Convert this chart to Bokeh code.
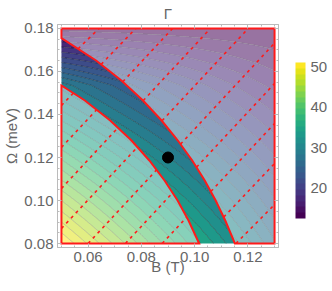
import numpy as np
from bokeh.plotting import figure
from bokeh.models import (ColorBar, LinearColorMapper, FixedTicker, PrintfTickFormatter,
                          LinearAxis, Range1d, CustomJSTickFormatter)
from bokeh.palettes import Viridis256
from bokeh.embed import file_html
from bokeh.resources import INLINE

# ---------------- data ----------------
B_lim = [0.05, 0.13]          # B (T)
W_lim = [0.08, 0.18]          # Omega (meV)
x_ticks = [0.06, 0.08, 0.10, 0.12]
y_ticks = [0.08, 0.10, 0.12, 0.14, 0.16, 0.18]
cbar_ticks = [20, 30, 40, 50]

# Gamma read along the frame edges
gamma_bottom_B = [0.05, 0.13]          # along Omega = 0.08
gamma_bottom = [51.0, 27.0]
gamma_top_B = [0.05, 0.13]             # along Omega = 0.18
gamma_top = [13.3, 12.5]
left_W = [0.08, 0.10, 0.12, 0.14, 0.1535, 0.165, 0.1755, 0.18]   # along B = 0.05
left_gamma = [51.0, 45.3, 39.3, 33.0, 29.0, 22.0, 15.8, 13.3]
right_W = [0.08, 0.18]                                           # along B = 0.13
right_gamma = [27.0, 12.5]
n_bands = 27

# band boundaries (red solid curves)
upper_W = [0.1755, 0.1651, 0.1558, 0.1465, 0.1372, 0.1279, 0.1186, 0.1093, 0.1000, 0.0907, 0.0800]
upper_B = [0.0500, 0.0630, 0.0725, 0.0806, 0.0876, 0.0937, 0.0991, 0.1038, 0.1079, 0.1115, 0.1151]
lower_W = [0.1535, 0.1465, 0.1372, 0.1279, 0.1186, 0.1093, 0.1000, 0.0907, 0.0800]
lower_B = [0.0500, 0.0588, 0.0683, 0.0763, 0.0830, 0.0887, 0.0936, 0.0977, 0.1017]

# dashed red lines: start / end points
dash_B0 = [0.0500, 0.0500, 0.0500, 0.0500, 0.0500, 0.0600, 0.0740, 0.0878, 0.1015, 0.1155]
dash_W0 = [0.1630, 0.1442, 0.1247, 0.1056, 0.0870, 0.0800, 0.0800, 0.0800, 0.0800, 0.0800]
dash_B1 = [0.0641, 0.0779, 0.0917, 0.1059, 0.1201, 0.1300, 0.1300, 0.1300, 0.1300, 0.1300]
dash_W1 = [0.1800, 0.1800, 0.1800, 0.1800, 0.1800, 0.1732, 0.1544, 0.1358, 0.1172, 0.0981]

point_B = [0.09]
point_W = [0.12]

# ---------------- figure ----------------
FONT = "Liberation Sans"
GRAY = "#666666"
FRAME = "#bbbbbb"
RED = "#ff1a1a"

p = figure(width=332, height=291,
           x_range=Range1d(0.04852, 0.13148), y_range=Range1d(0.07814, 0.18186),
           output_backend="svg", toolbar_location=None, title=None,
           min_border_left=54, min_border_right=54, min_border_top=24, min_border_bottom=44)
p.outline_line_color = FRAME
p.grid.visible = False
p.background_fill_color = "white"

# field: blend the edge profiles
Bg = np.linspace(B_lim[0], B_lim[1], 321)
Wg = np.linspace(W_lim[0], W_lim[1], 321)
BB, WW = np.meshgrid(Bg, Wg)
g_bot = np.interp(BB, gamma_bottom_B, gamma_bottom)
g_top = np.interp(BB, gamma_top_B, gamma_top)
h_left = (np.interp(WW, left_W, left_gamma) - left_gamma[-1]) / (left_gamma[0] - left_gamma[-1])
h_right = (np.interp(WW, right_W, right_gamma) - right_gamma[-1]) / (right_gamma[0] - right_gamma[-1])
wB = (BB - B_lim[0]) / (B_lim[1] - B_lim[0])
G = g_top + (g_bot - g_top) * ((1 - wB) * h_left + wB * h_right)
levels = np.linspace(G.min(), G.max(), n_bands + 1)
palette = [Viridis256[int(round(i * 255 / (n_bands - 1)))] for i in range(n_bands)]

p.contour(Bg, Wg, G, levels=levels, fill_color=palette,
          line_color="black", line_alpha=0.4, line_width=0.9)

# washed regions outside the band
low_xs = [B_lim[0]] + lower_B
low_ys = [W_lim[0]] + lower_W
up_xs = upper_B + [B_lim[1], B_lim[1], B_lim[0]]
up_ys = upper_W + [W_lim[0], W_lim[1], W_lim[1]]
p.patches([low_xs, up_xs], [low_ys, up_ys], fill_color="white", fill_alpha=0.45,
          line_color=None)

# dashed lines, hidden inside the band
def inside_band(b, w):
    ub = np.interp(w, upper_W[::-1], upper_B[::-1])
    lb = np.interp(w, lower_W[::-1], lower_B[::-1])
    return (b > lb) & (b < ub)

seg_x, seg_y = [], []
t = np.linspace(0, 1, 600)
for b0, w0, b1, w1 in zip(dash_B0, dash_W0, dash_B1, dash_W1):
    b = b0 + t * (b1 - b0)
    w = w0 + t * (w1 - w0)
    ins = inside_band(b, w)
    start = None
    for i in range(len(t) + 1):
        ok = i < len(t) and not ins[i]
        if ok and start is None:
            start = i
        if not ok and start is not None:
            if i - start > 1:
                seg_x.append(list(b[start:i]))
                seg_y.append(list(w[start:i]))
            start = None
p.multi_line(seg_x, seg_y, line_color=RED, line_width=1.6, line_dash="3 4")

# red outlines
p.patches([low_xs, up_xs], [low_ys, up_ys], fill_color=None,
          line_color=RED, line_width=2, line_join="miter")

p.scatter(point_B, point_W, size=11, color="black")

# axes styling
minor_x = [round(v, 3) for v in np.arange(0.05, 0.1301, 0.005) if round(v, 3) not in x_ticks]
minor_y = [round(v, 3) for v in np.arange(0.08, 0.1801, 0.005) if round(v, 3) not in y_ticks]

def style_axis(ax, ticks, minor, labels=True):
    ax.ticker = FixedTicker(ticks=ticks, minor_ticks=minor)
    ax.axis_line_color = FRAME
    ax.major_tick_line_color = FRAME
    ax.minor_tick_line_color = FRAME
    ax.major_tick_in = 4
    ax.major_tick_out = 0
    ax.minor_tick_in = 2
    ax.minor_tick_out = 0
    ax.axis_label_text_font = FONT
    ax.axis_label_text_font_size = "15px"
    ax.axis_label_text_color = GRAY
    ax.axis_label_text_font_style = "normal"
    if labels:
        ax.formatter = PrintfTickFormatter(format="%.2f")
        ax.major_label_text_font = FONT
        ax.major_label_text_font_size = "15px"
        ax.major_label_text_color = GRAY
        ax.major_label_standoff = 4
    else:
        ax.formatter = CustomJSTickFormatter(code="return ''")
        ax.major_label_text_font_size = "0px"
        ax.major_label_standoff = 0

style_axis(p.xaxis[0], x_ticks, minor_x)
style_axis(p.yaxis[0], y_ticks, minor_y)
p.xaxis[0].axis_label = "B (T)"
p.xaxis[0].axis_label_standoff = -7
p.yaxis[0].axis_label = "Ω (meV)"
p.yaxis[0].axis_label_standoff = 1

top_ax = LinearAxis()
right_ax = LinearAxis()
style_axis(top_ax, x_ticks, minor_x, labels=False)
style_axis(right_ax, y_ticks, minor_y, labels=False)
top_ax.axis_label = "Γ"
top_ax.axis_label_standoff = 3
p.add_layout(top_ax, "above")
p.add_layout(right_ax, "right")

# colour bar
mapper = LinearColorMapper(palette=palette, low=levels[0], high=levels[-1])
cb = ColorBar(color_mapper=mapper, ticker=FixedTicker(ticks=cbar_ticks),
              width=10, height=156, location=(17, 29), padding=0, margin=0,
              major_tick_line_color=None, minor_tick_line_color=None,
              major_label_text_font=FONT, major_label_text_font_size="15px",
              major_label_text_color=GRAY, label_standoff=5,
              background_fill_alpha=0, border_line_color=None, bar_line_color=None)
p.add_layout(cb, "right")

open("out.html", "w").write(file_html(p, INLINE))
